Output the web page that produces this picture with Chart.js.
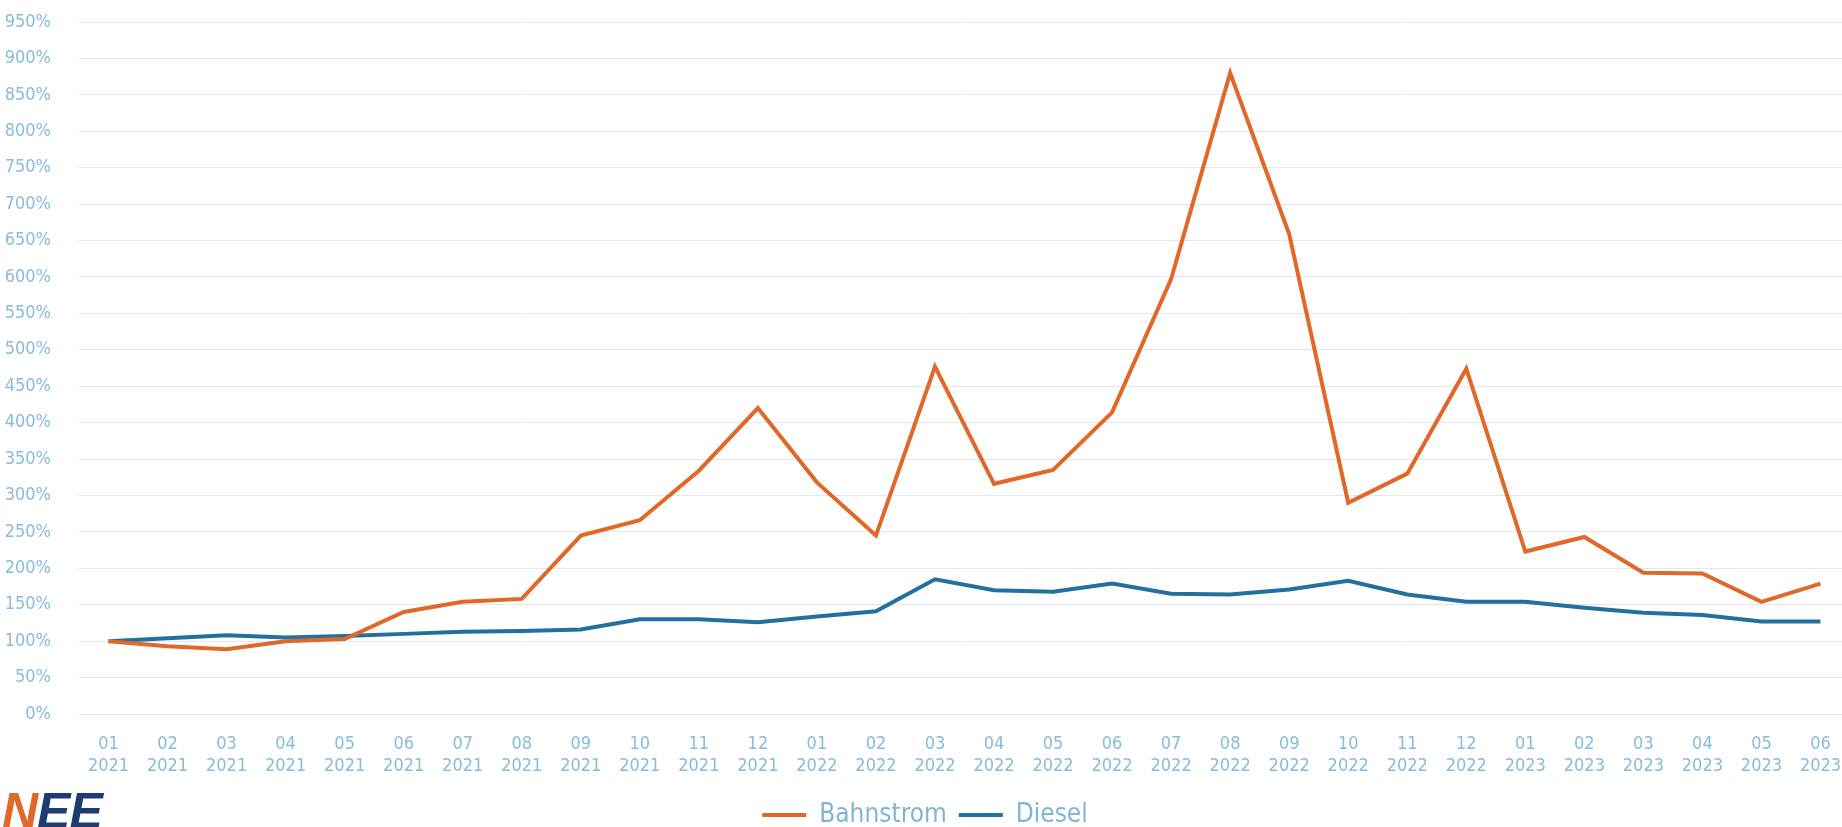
<!DOCTYPE html>
<html>
<head>
<meta charset="utf-8">
<script src="https://cdn.jsdelivr.net/npm/chart.js@4"></script>
<style>
  html, body { margin: 0; padding: 0; background: #fff; overflow: hidden; }
  #wrap { position: relative; width: 1850px; height: 850px; }
  #logo {
    position: absolute; left: 2px; top: 782px;
    font-family: "Liberation Sans", Arial, sans-serif;
    font-style: italic; font-weight: bold; font-size: 50px;
    color: #1e3c73; letter-spacing: -1px;
  }
  #logo span { color: #e0692a; }
</style>
</head>
<body>
<div id="wrap">
  <canvas id="lineChart" width="1850" height="850"></canvas>
  <div id="logo"><span>N</span>EE</div>
</div>
<script>
// Months and years on the x axis
var months = ["01", "02", "03", "04", "05", "06", "07", "08", "09", "10", "11", "12",
  "01", "02", "03", "04", "05", "06", "07", "08", "09", "10", "11", "12",
  "01", "02", "03", "04", "05", "06"];
var years = ["2021", "2021", "2021", "2021", "2021", "2021", "2021", "2021", "2021", "2021", "2021", "2021",
  "2022", "2022", "2022", "2022", "2022", "2022", "2022", "2022", "2022", "2022", "2022", "2022",
  "2023", "2023", "2023", "2023", "2023", "2023"];

// Price index in percent (01/2021 = 100%)
var bahnstrom = [100, 93, 89, 100, 103, 140, 154, 158, 245, 266, 334, 420,
  318, 245, 477, 316, 335, 414, 597, 880, 659, 290, 330, 474,
  223, 243, 194, 193, 154, 179];
var diesel = [100, 104, 108, 105, 107, 110, 113, 114, 116, 130, 130, 126,
  134, 141, 185, 170, 168, 179, 165, 164, 171, 183, 164, 154,
  154, 146, 139, 136, 127, 127];

var yMax = 950;
var yStep = 50;

var labels = months.map(function (m, i) {
  return [m, years[i]];
});

var fontStack = "'Liberation Sans Narrow', 'DejaVu Sans Condensed', Roboto, sans-serif";
var tickFont = { family: fontStack, size: 18 };
var tickColor = "#88bcd9";

document.addEventListener("DOMContentLoaded", function () {
  var ctx = document.getElementById("lineChart").getContext("2d");

  new Chart(ctx, {
    type: "line",
    data: {
      labels: labels,
      datasets: [
        {
          label: "Bahnstrom",
          data: bahnstrom,
          borderColor: "#e0692a",
          backgroundColor: "#e0692a",
          borderWidth: 4,
          pointRadius: 0,
          tension: 0,
        },
        {
          label: "Diesel",
          data: diesel,
          borderColor: "#22709e",
          backgroundColor: "#22709e",
          borderWidth: 4,
          pointRadius: 0,
          tension: 0,
        },
      ],
    },
    options: {
      responsive: false,
      animation: false,
      layout: { padding: { top: 22, right: 0, bottom: 12, left: 0 } },
      scales: {
        x: {
          offset: true,
          grid: { display: false, drawTicks: false },
          border: { display: false },
          ticks: {
            color: tickColor,
            font: tickFont,
            maxRotation: 0,
            autoSkip: false,
            padding: 20,
          },
          afterFit: function (scale) {
            // fixed axis height, no extra side padding from the tick labels
            scale.height = 76;
            scale.paddingLeft = 0;
            scale.paddingRight = 0;
          },
        },
        y: {
          min: 0,
          max: yMax,
          grid: { color: "#e4e8ec", lineWidth: 1, drawTicks: false },
          border: { display: false },
          ticks: {
            stepSize: yStep,
            color: tickColor,
            font: tickFont,
            padding: 28,
            callback: function (v) {
              return v + "%";
            },
          },
          afterFit: function (scale) {
            scale.width = 79;
            scale.paddingTop = 0;
            scale.paddingBottom = 0;
          },
        },
      },
      plugins: {
        tooltip: { enabled: false },
        legend: {
          position: "bottom",
          labels: {
            usePointStyle: true,
            pointStyle: "line",
            pointStyleWidth: 44,
            color: "#80b5d4",
            padding: 12,
            font: { family: fontStack, size: 26 },
          },
        },
      },
    },
  });
});
</script>
</body>
</html>
